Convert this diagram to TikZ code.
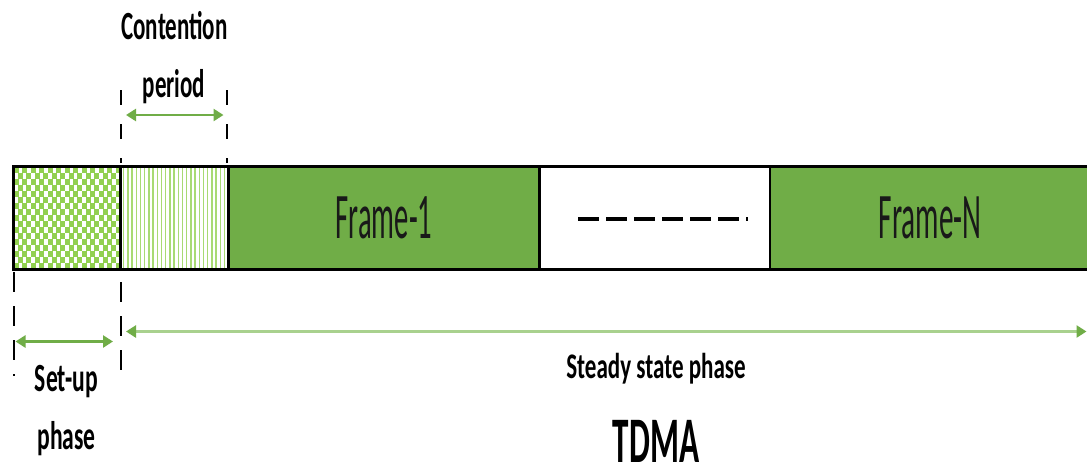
\documentclass[tikz,border=0pt]{standalone}
\usepackage{fontspec}
\setmainfont{Carlito}
\usetikzlibrary{arrows.meta}

\definecolor{framegreen}{HTML}{70AD47}
\definecolor{lightgreen}{HTML}{92D050}
\definecolor{palegreen}{HTML}{A9D18E}

% horizontally condensed text
\newcommand\xsq[2]{\scalebox{#1}[1]{#2}}

\tikzset{
  seg/.style={draw=black, line width=2.5pt, minimum height=103pt,
    inner sep=0pt, outer sep=0pt, anchor=north west},
  framelbl/.style={text=black!90, font=\fontsize{65}{70}\selectfont},
  lbl/.style={anchor=base, inner sep=0pt, font=\bfseries\fontsize{40}{44}\selectfont},
  guide/.style={draw=black, line width=2pt, dash pattern=on 20pt off 14pt},
  topguide/.style={draw=black, line width=2pt, dash pattern=on 15pt off 19pt},
  span/.style={draw=framegreen, line width=2.5pt,
    {Triangle[length=10pt,width=12pt]}-{Triangle[length=10pt,width=12pt]}},
  longspan/.style={draw=palegreen, line width=3pt,
    {Triangle[length=10pt,width=12pt,color=framegreen]}-{Triangle[length=10pt,width=12pt,color=framegreen]}},
}

\begin{document}
\begin{tikzpicture}[x=1pt,y=-1pt]
\useasboundingbox[fill=white] (0,0) rectangle (1087,467);

% set-up slot fill: green checker pattern
\begin{scope}
  \clip (13.5,166.5) rectangle (120.5,269.5);
  \foreach \r in {0,...,17} {
    \pgfmathsetmacro\off{mod(\r,2)*4.25}
    \foreach \c in {-1,...,13} {
      \fill[lightgreen] (13.5+\c*8.5+\off,166.5+\r*6) rectangle ++(5,6);
    }
  }
\end{scope}

% contention slot fill: narrow vertical stripes
\begin{scope}
  \clip (120.5,166.5) rectangle (228.5,269.5);
  \foreach \c in {1,...,26} {
    \draw[lightgreen!80, line width=1.4pt] (119.5+\c*4.2,166.5) -- (119.5+\c*4.2,269.5);
  }
\end{scope}

% slots of the round
\node[seg, minimum width=107pt] (setup) at (13.5,166.5) {};
\node[seg, minimum width=108pt] (contention) at (setup.north east) {};
\node[seg, fill=framegreen, minimum width=311pt, framelbl] (frame1) at (contention.north east) {\xsq{0.44}{Frame-1}};
\node[seg, fill=white, minimum width=230.5pt] (gap) at (frame1.north east) {};
\node[seg, fill=framegreen, minimum width=320pt, framelbl] (frameN) at (gap.north east) {\xsq{0.45}{Frame-N}};

% dashes standing for the omitted frames
\coordinate (dl) at (578,219);
\coordinate (dr) at (748,219);
\draw[line width=4pt, dash pattern=on 20.7pt off 7.3pt] (dl) -- (dr);

% boundary guides below the bar
\coordinate (g1a) at (13.5,272);
\coordinate (g1b) at (13.5,376);
\coordinate (g2a) at (120.5,282);
\coordinate (g2b) at (120.5,372);
\draw[guide] (g1a) -- (g1b);
\draw[guide] (g2a) -- (g2b);

% boundary guides above the bar
\coordinate (t1a) at (120.5,90);
\coordinate (t1b) at (120.5,163);
\coordinate (t2a) at (227,90);
\coordinate (t2b) at (227,163);
\draw[topguide] (t1a) -- (t1b);
\draw[topguide] (t2a) -- (t2b);

% span arrows
\coordinate (ca1) at (126,115);
\coordinate (ca2) at (223.5,115);
\draw[span] (ca1) -- (ca2);

\coordinate (sa1) at (15.5,341.5);
\coordinate (sa2) at (113,341.5);
\draw[span] (sa1) -- (sa2);

\coordinate (st1) at (126,331.5);
\coordinate (st2) at (1086.5,331.5);
\draw[longspan] (st1) -- (st2);

% labels
\node[lbl] (conttxt) at (174.5,39) {\xsq{0.575}{Contention}};
\node[lbl] (periodtxt) at (174,97) {\xsq{0.575}{period}};
\node[lbl] (setuptxt) at (66.5,391.5) {\xsq{0.59}{Set-up}};
\node[lbl] (phasetxt) at (66.5,449) {\xsq{0.59}{phase}};
\node[lbl, font=\bfseries\fontsize{36}{40}\selectfont] (steadytxt) at (656,378) {\xsq{0.64}{Steady state phase}};
\node[lbl, font=\bfseries\fontsize{65}{70}\selectfont] (tdmatxt) at (656,462) {\xsq{0.51}{TDMA}};
\end{tikzpicture}
\end{document}
